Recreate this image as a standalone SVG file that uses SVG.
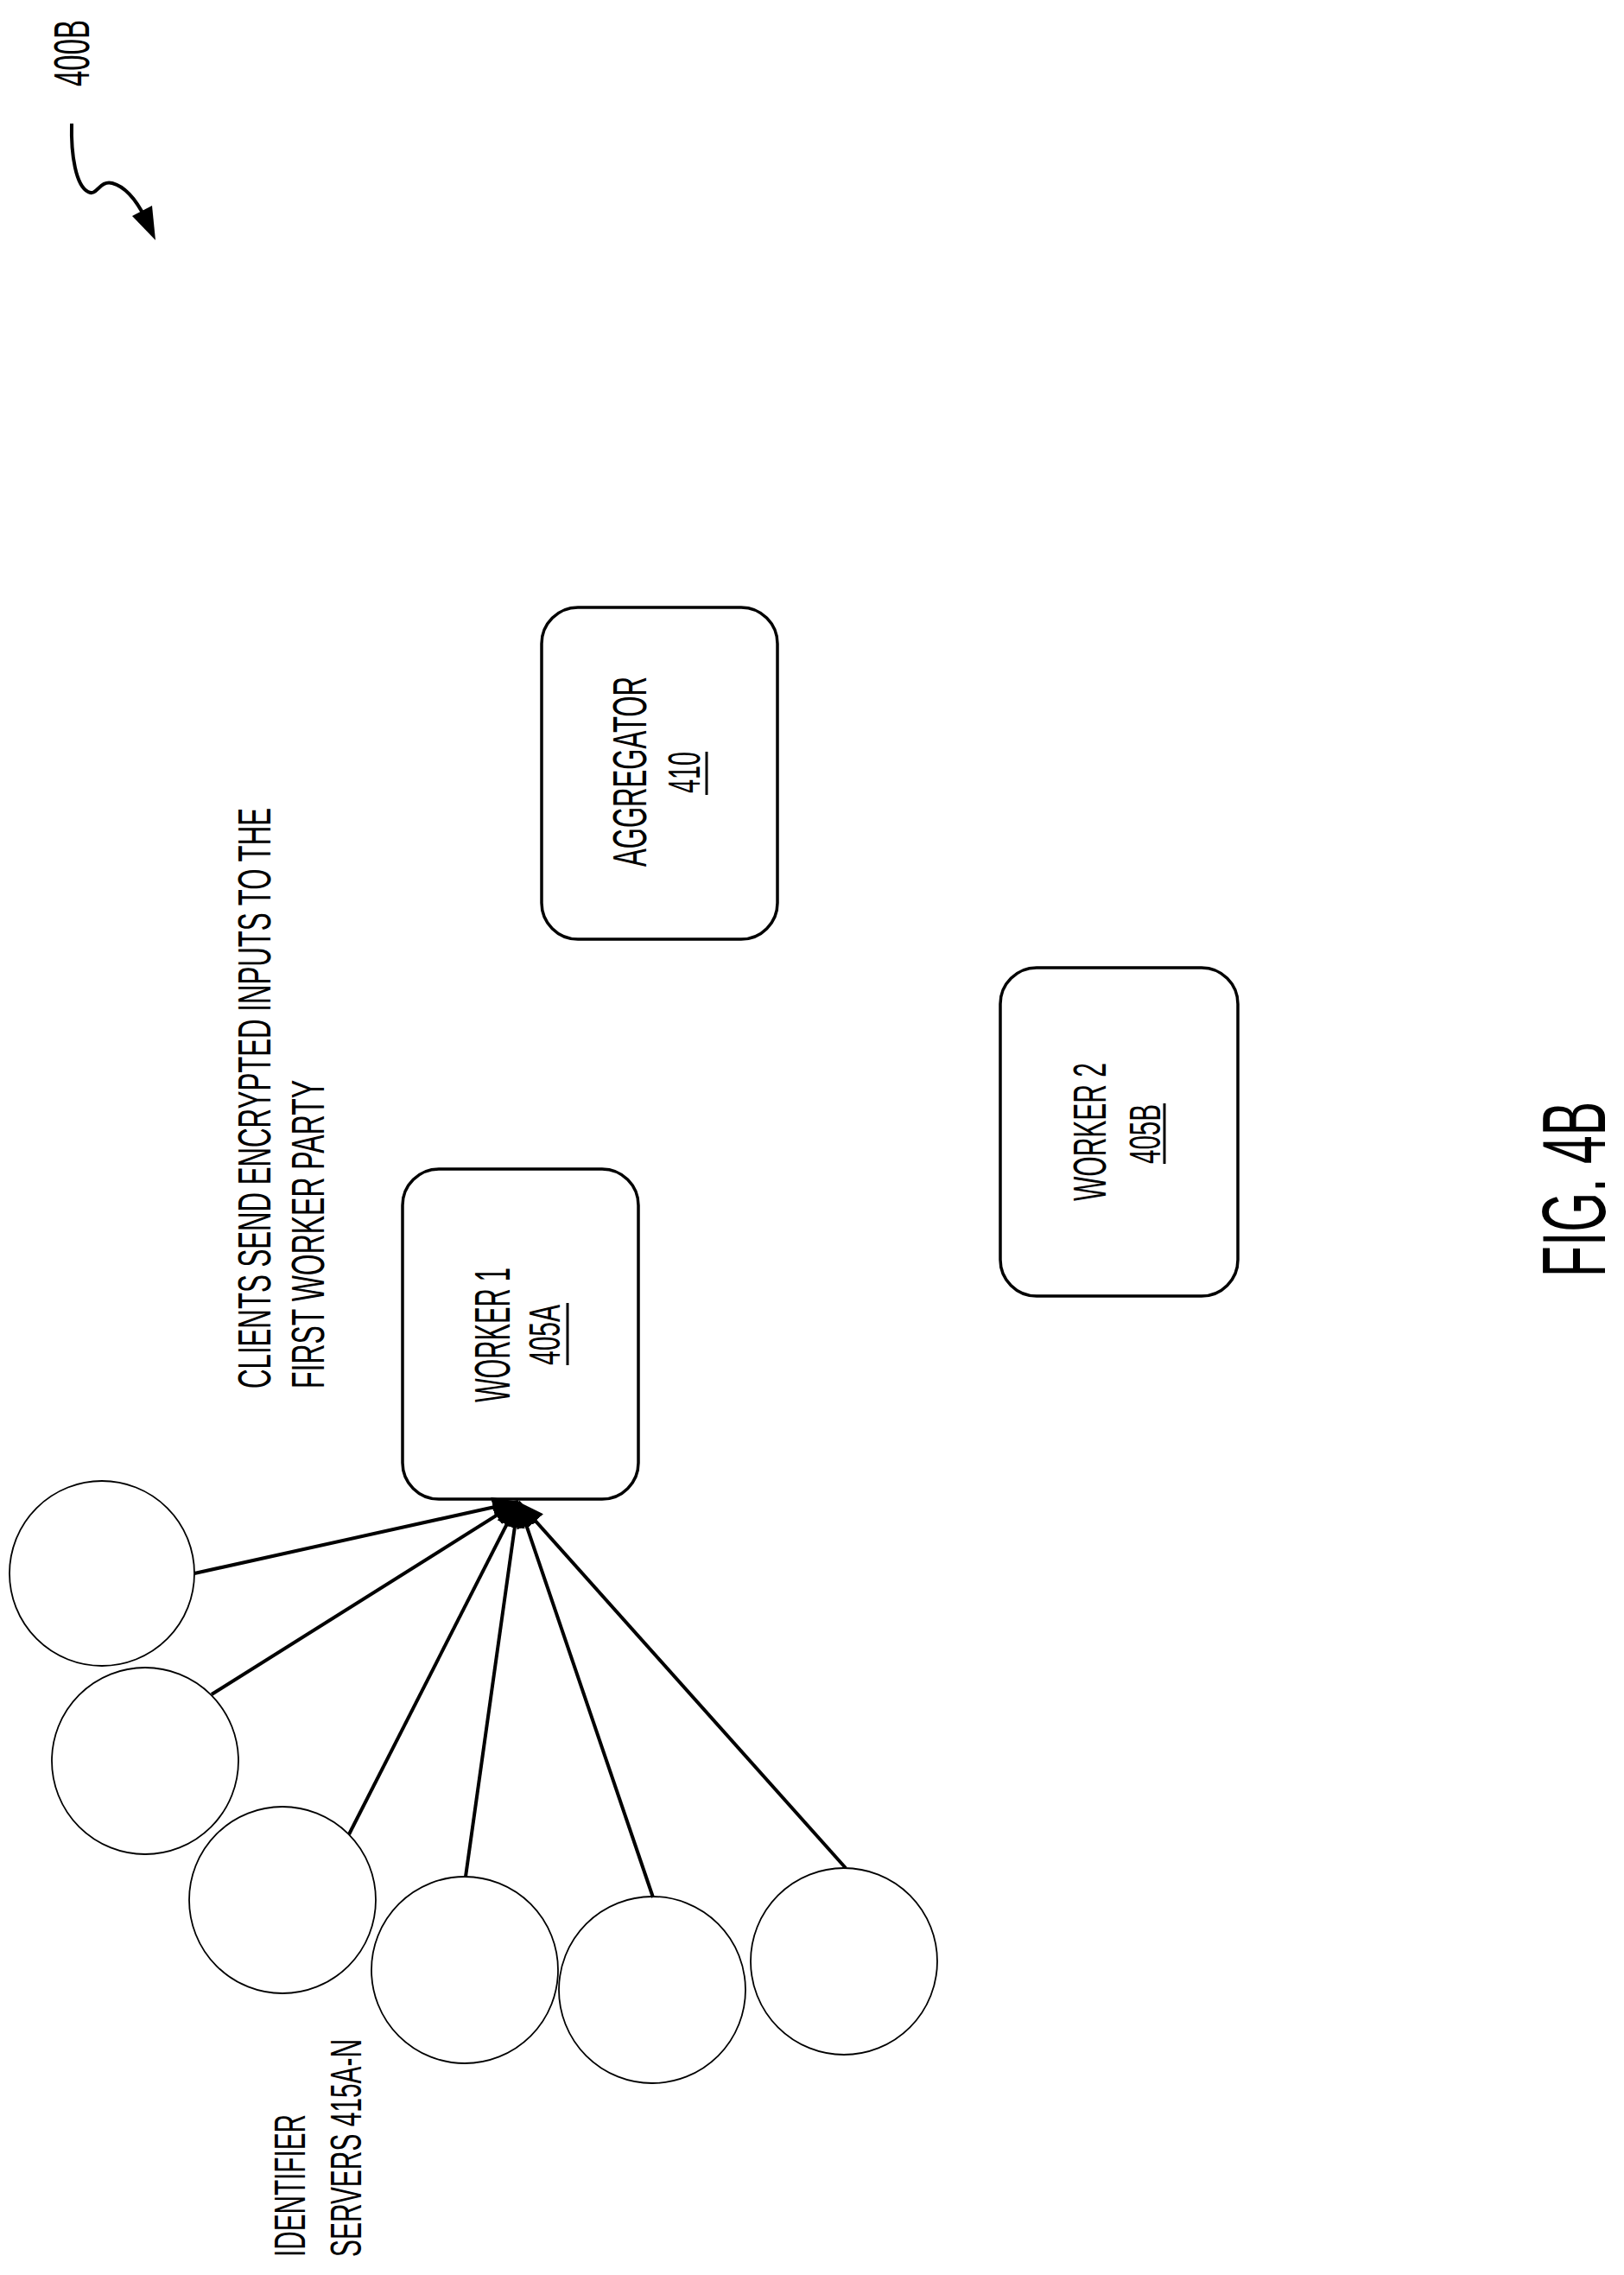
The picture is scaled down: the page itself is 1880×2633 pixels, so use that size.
<svg xmlns="http://www.w3.org/2000/svg" width="1880" height="2633" viewBox="0 0 1880 2633">
<style>
text{font-family:"Liberation Sans",Arial,sans-serif;fill:#000}
.box{fill:#fff;stroke:#000;stroke-width:3.5}
.srv{fill:#fff;stroke:#000;stroke-width:1.8}
.con{stroke:#000;stroke-width:4;fill:none}
.ul{stroke:#000;stroke-width:3}
</style>
<defs>
<marker id="ah" markerUnits="userSpaceOnUse" markerWidth="32" markerHeight="24" refX="30" refY="12" orient="auto">
<path d="M0,0 L30,12 L0,24 Z" fill="#000"/>
</marker>
</defs>
<rect width="1880" height="2633" fill="#fff"/>
<g id="ref400B">
<text transform="translate(103,100) rotate(-90)" font-size="57" textLength="77" lengthAdjust="spacingAndGlyphs">400B</text>
<path d="M83,143 C82,180 88,215 102,222 C112,228 115,208 130,212 C145,216 158,232 168,252" fill="none" stroke="#000" stroke-width="4"/>
<path d="M180,278 L153,250 L176,238 Z" fill="#000"/>
</g>
<g id="clients-label">
<text transform="translate(313,1607) rotate(-90)" font-size="53" textLength="672" lengthAdjust="spacingAndGlyphs">CLIENTS SEND ENCRYPTED INPUTS TO THE</text>
<text transform="translate(375,1607) rotate(-90)" font-size="53" textLength="357" lengthAdjust="spacingAndGlyphs">FIRST WORKER PARTY</text>
</g>
<g id="aggregator">
<rect class="box" x="627" y="703" width="273" height="384" rx="42"/>
<text transform="translate(748,1003) rotate(-90)" font-size="55" textLength="220" lengthAdjust="spacingAndGlyphs">AGGREGATOR</text>
<text transform="translate(810,918) rotate(-90)" font-size="52" textLength="48" lengthAdjust="spacingAndGlyphs">410</text>
<line class="ul" x1="818" y1="870" x2="818" y2="920"/>
</g>
<g id="worker1">
<rect class="box" x="466" y="1353" width="273" height="382" rx="42"/>
<text transform="translate(590,1623) rotate(-90)" font-size="58" textLength="156" lengthAdjust="spacingAndGlyphs">WORKER 1</text>
<text transform="translate(648,1580) rotate(-90)" font-size="50" textLength="70" lengthAdjust="spacingAndGlyphs">405A</text>
<line class="ul" x1="657" y1="1508" x2="657" y2="1580"/>
</g>
<g id="worker2">
<rect class="box" x="1158" y="1120" width="275" height="380" rx="42"/>
<text transform="translate(1280,1390) rotate(-90)" font-size="54" textLength="160" lengthAdjust="spacingAndGlyphs">WORKER 2</text>
<text transform="translate(1343,1347) rotate(-90)" font-size="50" textLength="69" lengthAdjust="spacingAndGlyphs">405B</text>
<line class="ul" x1="1348" y1="1277" x2="1348" y2="1347"/>
</g>
<g id="server1"><circle class="srv" cx="118" cy="1821" r="107"/></g>
<g id="server2"><circle class="srv" cx="168" cy="2038" r="108"/></g>
<g id="server3"><circle class="srv" cx="327" cy="2199" r="108"/></g>
<g id="server4"><circle class="srv" cx="538" cy="2280" r="108"/></g>
<g id="server5"><circle class="srv" cx="755" cy="2303" r="108"/></g>
<g id="server6"><circle class="srv" cx="977" cy="2270" r="108"/></g>
<g id="connectors">
<line class="con" x1="225" y1="1821" x2="600" y2="1738" marker-end="url(#ah)"/>
<line class="con" x1="245" y1="1961" x2="600" y2="1738" marker-end="url(#ah)"/>
<line class="con" x1="404" y1="2123" x2="600" y2="1738" marker-end="url(#ah)"/>
<line class="con" x1="539" y1="2172" x2="600" y2="1738" marker-end="url(#ah)"/>
<line class="con" x1="756" y1="2196" x2="600" y2="1738" marker-end="url(#ah)"/>
<line class="con" x1="979" y1="2162" x2="600" y2="1738" marker-end="url(#ah)"/>
</g>
<g id="servers-label">
<text transform="translate(353,2612) rotate(-90)" font-size="50" textLength="165" lengthAdjust="spacingAndGlyphs">IDENTIFIER</text>
<text transform="translate(418,2612) rotate(-90)" font-size="50" textLength="252" lengthAdjust="spacingAndGlyphs">SERVERS 415A-N</text>
</g>
<g id="fig-label">
<text transform="translate(1858,1478) rotate(-90)" font-size="104" textLength="203" lengthAdjust="spacingAndGlyphs">FIG. 4B</text>
</g>
</svg>
